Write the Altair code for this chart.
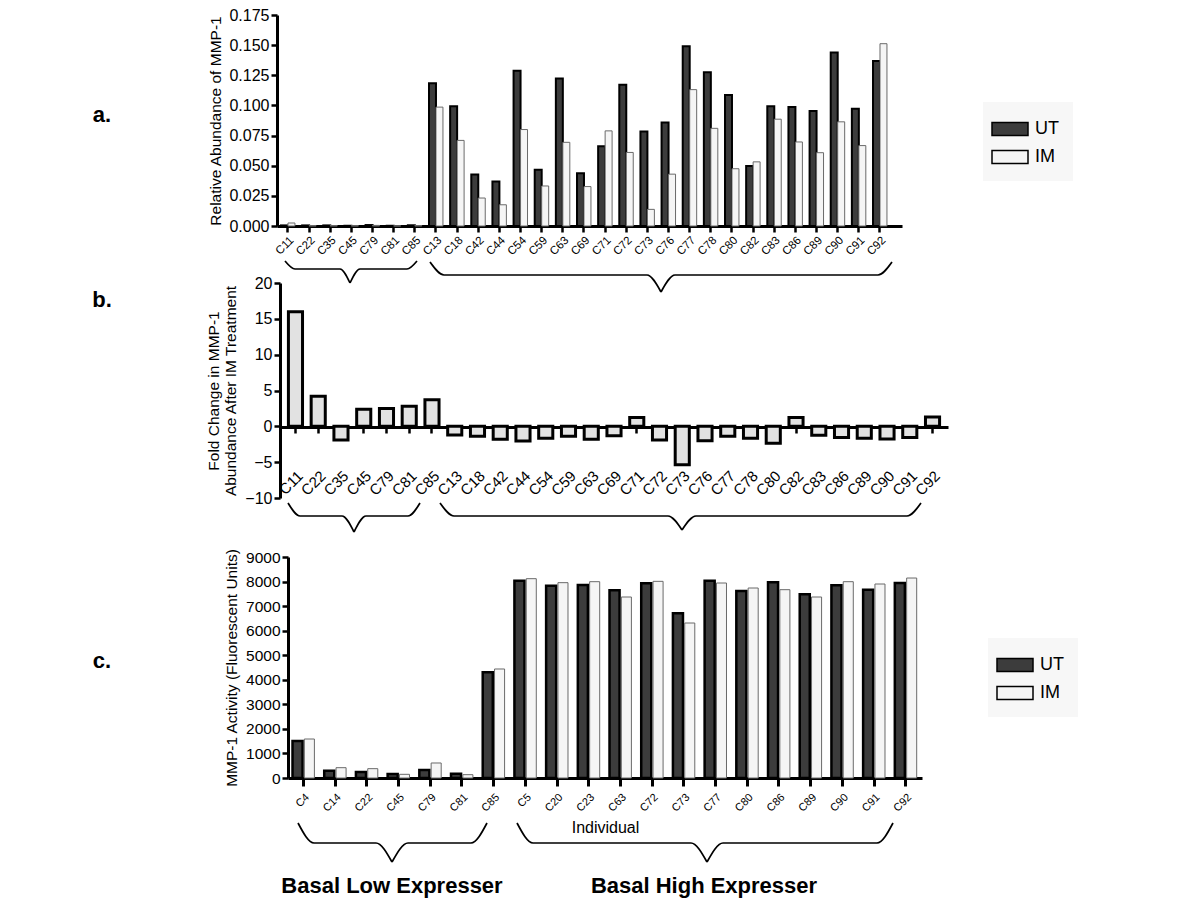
import altair as alt
import pandas as pd

FONT = "Liberation Sans"
W, H = 1184, 890

series = ["UT", "IM"]

# ---- panel a: relative abundance of MMP-1 ----
cats_a = ["C11", "C22", "C35", "C45", "C79", "C81", "C85",
          "C13", "C18", "C42", "C44", "C54", "C59", "C63", "C69", "C71", "C72",
          "C73", "C76", "C77", "C78", "C80", "C82", "C83", "C86", "C89", "C90",
          "C91", "C92"]
ut_a = [0.0005, 0.0005, 0.0005, 0.0002, 0.0008, 0.0002, 0.0006,
        0.1183, 0.0994, 0.0427, 0.0370, 0.1288, 0.0467, 0.1223, 0.0437, 0.0662,
        0.1172, 0.0783, 0.0859, 0.1490, 0.1275, 0.1086, 0.0497, 0.0994, 0.0988,
        0.0953, 0.1439, 0.0972, 0.1369]
im_a = [0.0025, 0.0003, 0.0003, 0.0002, 0.0005, 0.0001, 0.0003,
        0.0986, 0.0710, 0.0232, 0.0176, 0.0800, 0.0332, 0.0694, 0.0327, 0.0789,
        0.0610, 0.0138, 0.0430, 0.1131, 0.0810, 0.0475, 0.0532, 0.0886, 0.0697,
        0.0608, 0.0864, 0.0667, 0.1512]

# ---- panel b: fold change ----
fold_b = [16.0, 4.2, -1.9, 2.4, 2.5, 2.8, 3.7,
          -1.2, -1.4, -1.8, -2.05, -1.65, -1.4, -1.8, -1.3, 1.25, -1.9,
          -5.35, -2.0, -1.4, -1.65, -2.35, 1.25, -1.25, -1.55, -1.65, -1.75,
          -1.55, 1.3]

# ---- panel c: MMP-1 activity ----
cats_c = ["C4", "C14", "C22", "C45", "C79", "C81", "C85",
          "C5", "C20", "C23", "C63", "C72", "C73", "C77", "C80", "C86", "C89",
          "C90", "C91", "C92"]
ut_c = [1507, 300, 245, 163, 326, 176, 4303,
        8036, 7832, 7860, 7642, 7928, 6706, 8036, 7615, 7968, 7479, 7846, 7669, 7941]
im_c = [1588, 420, 380, 150, 611, 136, 4439,
        8117, 7955, 7995, 7371, 8009, 6312, 7941, 7737, 7669, 7371, 7995, 7900, 8144]

# ---- annotations (pixel positions) ----
ann_text = ["a.", "b.", "c.", "Basal Low Expresser", "Basal High Expresser"]
ann_x = [94, 94, 94, 384, 696]
ann_y = [114, 299, 660, 885, 885]
ann_size = [22, 22, 22, 22, 22]

# braces: x0, x1, xtip, ytop, yflat, ytip, radius
braces = [
    (277, 409, 342, 253, 261, 275, 10),
    (422, 884, 653, 254, 267, 284, 14),
    (280, 412, 346, 495, 508, 524, 12),
    (432, 913, 674, 495, 508, 522, 14),
    (290, 479, 384, 815, 835, 854, 16),
    (509, 885, 699, 815, 835, 854, 16),
]

df_a = pd.DataFrame({"cat": cats_a * 2,
                     "series": ["UT"] * len(cats_a) + ["IM"] * len(cats_a),
                     "value": ut_a + im_a})
df_b = pd.DataFrame({"cat": cats_a, "fold": fold_b})
df_c = pd.DataFrame({"cat": cats_c * 2,
                     "series": ["UT"] * len(cats_c) + ["IM"] * len(cats_c),
                     "value": ut_c + im_c})

rows = []
for i, (x0, x1, xt, yt, yf, yp, r) in enumerate(braces):
    left = [(x0, yt), (x0 + r, yf), (xt - r, yf), (xt, yp)]
    right = [(xt, yp), (xt + r, yf), (x1 - r, yf), (x1, yt)]
    for k, (px, py) in enumerate(left):
        rows.append({"seg": f"{i}L", "ord": k, "px": px, "py": py})
    for k, (px, py) in enumerate(right):
        rows.append({"seg": f"{i}R", "ord": k, "px": px, "py": py})
df_br = pd.DataFrame(rows)
df_ann = pd.DataFrame({"label": ann_text, "px": ann_x, "py": ann_y, "fs": ann_size})


def axis(**kw):
    base = dict(domainColor="black", domainWidth=3, tickColor="black",
                tickWidth=2.5, tickSize=6, labelFont=FONT, labelColor="black",
                titleFont=FONT, titleColor="black", titleFontWeight="normal",
                grid=False)
    base.update(kw)
    return alt.Axis(**base)


SYM = "M-1.5,-0.55H1.5V0.55H-1.5Z"


def legend(x, y):
    return alt.Legend(orient="none", legendX=x, legendY=y, title=None,
                      symbolType=SYM, symbolSize=576, symbolStrokeColor="black",
                      symbolStrokeWidth=1.5, symbolOpacity=1, labelFont=FONT,
                      labelFontSize=18, labelColor="black", labelOffset=12,
                      fillColor="#f7f7f7", padding=14, rowPadding=5)


UT_FILL = "#3c3c3c"
IM_FILL = "#f5f5f5"
fill_scale_a = alt.Scale(domain=series, range=[UT_FILL, IM_FILL])
fill_scale_c = alt.Scale(domain=series, range=[UT_FILL, IM_FILL])

bars_a = alt.Chart(df_a).mark_bar().encode(
    x=alt.X("cat:N",
            scale=alt.Scale(domain=cats_a, range=[269, 894], paddingInner=0.34,
                            paddingOuter=0.45, align=0.21),
            axis=axis(orient="bottom", offset=218 - H, labelAngle=-45,
                      labelFontSize=11.5, labelPadding=2, title=None)),
    xOffset=alt.XOffset("series:N",
                        scale=alt.Scale(domain=series, paddingInner=0, paddingOuter=0)),
    y=alt.Y("value:Q",
            scale=alt.Scale(domain=[0, 0.175], range=[218, 7], nice=False),
            axis=axis(orient="left", offset=-269,
                      values=[0, 0.025, 0.05, 0.075, 0.1, 0.125, 0.15, 0.175],
                      format=".3f", labelFontSize=16, titleFontSize=15.5,
                      titlePadding=5, title="Relative Abundance of MMP-1")),
    fill=alt.Fill("series:N", scale=fill_scale_a, legend=legend(975, 94)),
    stroke=alt.condition(alt.datum.series == "UT", alt.value("black"), alt.value("#6a6a6a")),
    strokeWidth=alt.condition(alt.datum.series == "UT", alt.value(2), alt.value(1)),
)

bars_b = alt.Chart(df_b).mark_bar(fill="#e2e2e2", stroke="black", strokeWidth=3).encode(
    x=alt.X("cat:N",
            scale=alt.Scale(domain=cats_a, range=[272, 940], paddingInner=0.38,
                            paddingOuter=0.37, align=0.5),
            axis=axis(orient="bottom", offset=419 - H, labelAngle=-45,
                      labelFontSize=15, labelPadding=35, title=None)),
    y=alt.Y("fold:Q",
            scale=alt.Scale(domain=[-10, 20], range=[490, 275], nice=False),
            axis=axis(orient="left", offset=-272, values=[-10, -5, 0, 5, 10, 15, 20],
                      labelFontSize=16, titleFontSize=15.5, titlePadding=6,
                      title=["Fold Change in MMP-1", "Abundance After IM Treatment"])),
)

bars_c = alt.Chart(df_c).mark_bar().encode(
    x=alt.X("cat:N",
            scale=alt.Scale(domain=cats_c, range=[280, 914], paddingInner=0.31,
                            paddingOuter=0.155, align=0.46),
            axis=axis(orient="bottom", offset=770 - H, labelAngle=-45,
                      labelFontSize=11, labelPadding=5, tickSize=8, tickWidth=3,
                      titleFontSize=16, titlePadding=6, title="Individual")),
    xOffset=alt.XOffset("series:N",
                        scale=alt.Scale(domain=series, paddingInner=0.15, paddingOuter=0)),
    y=alt.Y("value:Q",
            scale=alt.Scale(domain=[0, 9000], range=[770, 549], nice=False),
            axis=axis(orient="left", offset=-280, format="d",
                      values=[0, 1000, 2000, 3000, 4000, 5000, 6000, 7000, 8000, 9000],
                      labelFontSize=15.5, titleFontSize=15.5, titlePadding=6,
                      title="MMP-1 Activity (Fluorescent Units)")),
    fill=alt.Fill("series:N", scale=fill_scale_c, legend=legend(980, 630)),
    stroke=alt.condition(alt.datum.series == "UT", alt.value("black"), alt.value("#6a6a6a")),
    strokeWidth=alt.condition(alt.datum.series == "UT", alt.value(2.5), alt.value(1)),
)

brace_layer = alt.Chart(df_br).mark_line(
    interpolate="monotone", color="black", strokeWidth=1.7
).encode(
    x=alt.X("px:Q", scale=None, axis=None),
    y=alt.Y("py:Q", scale=None, axis=None),
    detail="seg:N",
    order="ord:Q",
)

text_layer = alt.Chart(df_ann).mark_text(
    font=FONT, fontWeight="bold", color="black", align="center", baseline="alphabetic"
).encode(
    x=alt.X("px:Q", scale=None, axis=None),
    y=alt.Y("py:Q", scale=None, axis=None),
    text="label:N",
    size=alt.Size("fs:Q", scale=None, legend=None),
)

chart = alt.layer(bars_a, bars_b, bars_c, brace_layer, text_layer).resolve_scale(
    x="independent", y="independent", xOffset="independent", fill="independent"
).resolve_axis(
    x="independent", y="independent"
).resolve_legend(
    fill="independent"
).properties(
    width=W, height=H, autosize=alt.AutoSizeParams(type="none"), padding=0,
    background="white"
).configure_view(stroke=None)

chart.save("out.html", embed_options={"renderer": "svg", "actions": False})
